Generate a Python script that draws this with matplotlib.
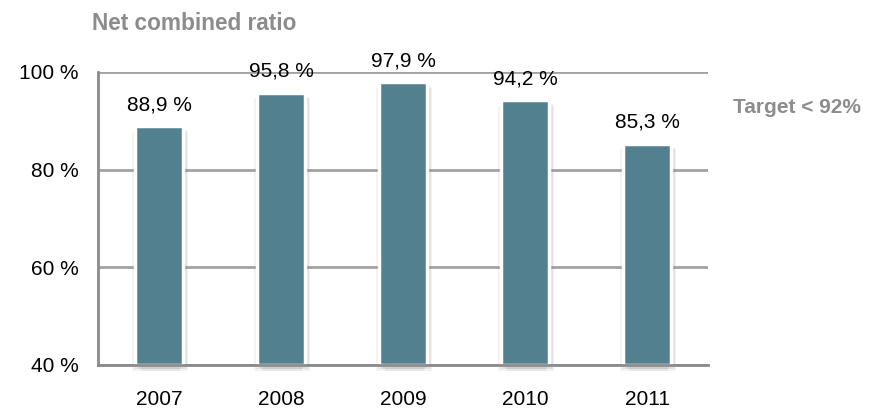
import matplotlib
matplotlib.use("Agg")
import matplotlib.pyplot as plt
import matplotlib.patheffects as pe
import numpy as np

plt.rcParams['font.family'] = ['Liberation Sans', 'DejaVu Sans']

years = ["2007", "2008", "2009", "2010", "2011"]
ratios = [88.9, 95.8, 97.9, 94.2, 85.3]
y_ticks = [40, 60, 80, 100]
title = "Net combined ratio"
target_note = "Target < 92%"

bar_color = "#52808f"
grid_color = "#a2a2a2"
spine_color = "#8a8a8a"
note_color = "#8c8c8c"

fig = plt.figure(figsize=(8.83, 4.09), dpi=100)
W, H = 883, 409
ax_left, ax_right, ax_top, ax_bottom = 98, 708, 72, 365
ax = fig.add_axes([ax_left / W, 1 - ax_bottom / H,
                   (ax_right - ax_left) / W, (ax_bottom - ax_top) / H])

x = np.arange(len(years))
ax.set_xlim(-0.5, len(years) - 0.5)
ax.set_ylim(40, 100)

ax.set_yticks(y_ticks)
ax.set_yticklabels([f"{t} %" for t in y_ticks])
ax.yaxis.grid(True, color=grid_color, linewidth=2)
ax.set_axisbelow(True)

bars = ax.bar(x, np.array(ratios) - 40, bottom=40, width=0.39,
              color=bar_color, edgecolor="white", linewidth=2.5,
              zorder=3, clip_on=False)
# soft drop shadow: several faint offset copies behind each bar
shadow = [pe.SimplePatchShadow(offset=(4, -4), shadow_rgbFace="#808080", alpha=0.10),
          pe.SimplePatchShadow(offset=(-2, -4), shadow_rgbFace="#808080", alpha=0.10),
          pe.SimplePatchShadow(offset=(3, -3), shadow_rgbFace="#808080", alpha=0.14),
          pe.SimplePatchShadow(offset=(-1, -3), shadow_rgbFace="#808080", alpha=0.12),
          pe.SimplePatchShadow(offset=(1, -2), shadow_rgbFace="#808080", alpha=0.15),
          pe.Normal()]
for b in bars:
    b.set_path_effects(shadow)

for xi, v in zip(x, ratios):
    ax.annotate(f"{v:.1f} %".replace(".", ","), (xi, v),
                xytext=(0, 11.5), textcoords="offset points",
                ha="center", va="baseline", fontsize=15, color="black",
                zorder=5)

ax.set_xticks(x)
ax.set_xticklabels(years)
ax.tick_params(axis="x", length=0, pad=18, labelsize=15)
ax.tick_params(axis="y", length=0, pad=14, labelsize=15)

for s in ["top", "right"]:
    ax.spines[s].set_visible(False)
for s in ["left", "bottom"]:
    ax.spines[s].set_color(spine_color)
    ax.spines[s].set_linewidth(2)
    ax.spines[s].set_zorder(4)

fig.text(92 / W, 1 - 30 / H, title, fontsize=16.3, fontweight="bold",
         color=note_color, ha="left", va="baseline")
fig.text(733 / W, 1 - 113 / H, target_note, fontsize=15, fontweight="bold",
         color=note_color, ha="left", va="baseline")

fig.savefig("out.png", dpi=100, facecolor="white")
